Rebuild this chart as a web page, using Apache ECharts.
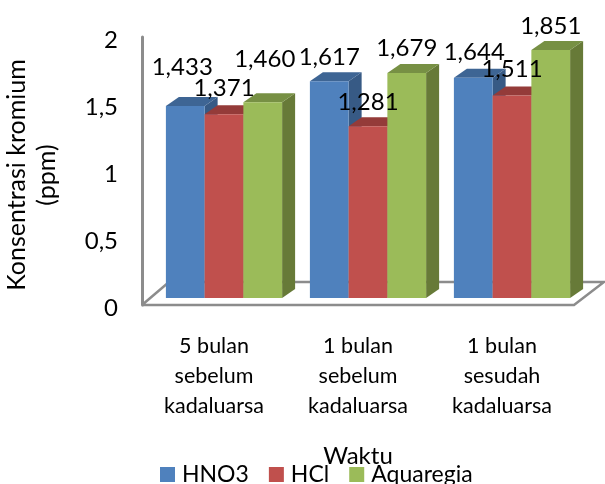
<!DOCTYPE html>
<html>
<head>
<meta charset="utf-8">
<style>
  html, body { margin: 0; padding: 0; background: #fff; }
  #chart { width: 605px; height: 484px; }
</style>
<script src="https://cdn.jsdelivr.net/npm/echarts@6/dist/echarts.min.js"></script>
</head>
<body>
<div id="chart"></div>
<script>
// Data
const categories = ['5 bulan\nsebelum\nkadaluarsa', '1 bulan\nsebelum\nkadaluarsa', '1 bulan\nsesudah\nkadaluarsa'];
const hno3 = [1.433, 1.617, 1.644];
const hcl = [1.371, 1.281, 1.511];
const aquaregia = [1.460, 1.679, 1.851];

const FONT = 'Lato';
const DEPTH_X = 13;
const DEPTH_Y = 9;
const BAR_RATIO = 0.269;

// Label offsets from the bar's top centre, one row per category, one pair per series
const labelOffsets = [
  [[-3, -39], [0, -26], [2, -43]],
  [[0, -24], [0, -24], [0, -25]],
  [[1, -25], [0, -26], [0, -24]]
];

const formatValue = (v) => v.toFixed(3).replace('.', ',');

// 3D column: front face, top and side
const bar3d = (seriesIndex, colors) => (params, api) => {
  const cat = api.value(0);
  const val = api.value(1);
  const top = api.coord([cat, val]);
  const base = api.coord([cat, 0]);
  const w = api.size([1, 0])[0] * BAR_RATIO;
  const x0 = top[0] + (seriesIndex - 1.5) * w;
  const x1 = x0 + w;
  const off = labelOffsets[cat][seriesIndex];
  return {
    type: 'group',
    children: [
      {
        type: 'polygon',
        z2: seriesIndex * 3 + 1,
        shape: { points: [[x1, top[1]], [x1 + DEPTH_X, top[1] - DEPTH_Y], [x1 + DEPTH_X, base[1] - DEPTH_Y], [x1, base[1]]] },
        style: { fill: colors.side }
      },
      {
        type: 'polygon',
        z2: seriesIndex * 3 + 2,
        shape: { points: [[x0, top[1]], [x0 + DEPTH_X, top[1] - DEPTH_Y], [x1 + DEPTH_X, top[1] - DEPTH_Y], [x1, top[1]]] },
        style: { fill: colors.top }
      },
      {
        type: 'rect',
        z2: seriesIndex * 3 + 3,
        shape: { x: x0, y: top[1], width: w, height: base[1] - top[1] },
        style: { fill: colors.front }
      },
      {
        type: 'text',
        z2: 100,
        style: {
          x: (x0 + x1) / 2 + off[0],
          y: top[1] + off[1],
          text: formatValue(val),
          fill: '#000',
          font: '24px ' + FONT,
          align: 'center',
          verticalAlign: 'middle'
        }
      }
    ]
  };
};

const makeSeries = (name, values, index, colors) => ({
  name,
  type: 'custom',
  xAxisIndex: 1,
  yAxisIndex: 1,
  itemStyle: { color: colors.front },
  encode: { x: 0, y: 1 },
  data: values.map((v, i) => [i, v]),
  renderItem: bar3d(index, colors)
});

const blue = { front: '#4f81bd', top: '#3e6594', side: '#375a85' };
const red = { front: '#c0504d', top: '#943b39', side: '#8a3836' };
const green = { front: '#9bbb59', top: '#779044', side: '#677a38' };

const chart = echarts.init(document.getElementById('chart'), null, { renderer: 'canvas' });

chart.setOption({
  animation: false,
  backgroundColor: '#fff',
  textStyle: { fontFamily: FONT },
  legend: {
    left: 160,
    top: 463,
    padding: 0,
    itemWidth: 15,
    itemHeight: 15,
    itemGap: 20,
    icon: 'rect',
    data: ['HNO3', 'HCl', 'Aquaregia'],
    textStyle: { fontFamily: FONT, fontSize: 23, color: '#000', padding: [0, 0, 0, 2] }
  },
  // Floor of the 3D box
  graphic: [{
    type: 'polyline',
    z: 0,
    shape: { points: [[142, 305], [169, 282], [604, 282], [574, 305], [142, 305]] },
    style: { stroke: '#8c8c8c', lineWidth: 2.5, fill: '#fff' }
  }],
  grid: [
    { left: 142, right: 31, top: 37, bottom: 179, outerBoundsMode: 'none' },
    { left: 152, right: 21, top: 30, bottom: 186, outerBoundsMode: 'none' }
  ],
  xAxis: [
    {
      type: 'category',
      gridIndex: 0,
      data: categories,
      name: 'Waktu',
      nameLocation: 'middle',
      nameGap: 139,
      nameTextStyle: { fontFamily: FONT, fontSize: 24, color: '#000' },
      axisLine: { show: false },
      axisTick: { show: false },
      axisLabel: { color: '#000', fontFamily: FONT, fontSize: 21.5, lineHeight: 30, margin: 26 }
    },
    {
      type: 'category',
      gridIndex: 1,
      data: categories,
      show: false
    }
  ],
  yAxis: [
    {
      type: 'value',
      gridIndex: 0,
      min: 0,
      max: 2,
      interval: 0.5,
      name: 'Konsentrasi kromium\n(ppm)',
      nameLocation: 'middle',
      nameGap: 80,
      nameRotate: 90,
      nameTextStyle: { fontFamily: FONT, fontSize: 25, lineHeight: 30, color: '#000', padding: [0, 8, 0, 0] },
      axisLine: { show: true, lineStyle: { color: '#8c8c8c', width: 3 } },
      axisTick: { show: false },
      splitLine: { show: false },
      axisLabel: {
        color: '#000',
        fontFamily: FONT,
        fontSize: 24,
        margin: 24,
        verticalAlign: 'top',
        lineHeight: 6,
        formatter: (v) => String(v).replace('.', ',')
      }
    },
    {
      type: 'value',
      gridIndex: 1,
      min: 0,
      max: 2,
      show: false
    }
  ],
  series: [
    makeSeries('HNO3', hno3, 0, blue),
    makeSeries('HCl', hcl, 1, red),
    makeSeries('Aquaregia', aquaregia, 2, green)
  ]
});
</script>
</body>
</html>
